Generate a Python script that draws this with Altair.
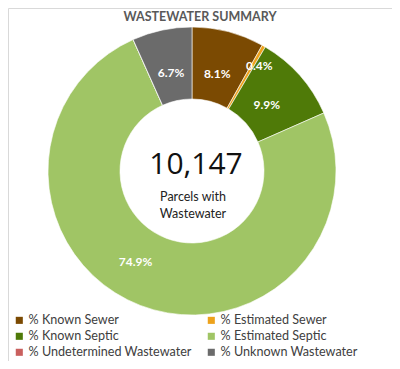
import altair as alt
import pandas as pd

categories = ["% Known Sewer", "% Estimated Sewer", "% Known Septic",
              "% Estimated Septic", "% Undetermined Wastewater", "% Unknown Wastewater"]
values = [8.1, 0.4, 9.9, 74.9, 0.0, 6.7]
colors = ["#7B4A02", "#EDA21C", "#4F7A08", "#A0C565", "#C9605E", "#6B6B6B"]
# legend reading order (fills column by column)
legend_order = ["% Known Sewer", "% Known Septic", "% Undetermined Wastewater",
                "% Estimated Sewer", "% Estimated Septic", "% Unknown Wastewater"]

title_text = ["WASTEWATER SUMMARY"]
total_text = ["10,147"]
sub_text = ["Parcels with", "Wastewater"]

FONT = "Lato"
CX, CY = 184, 163

df = pd.DataFrame({"category": categories, "value": values})

base = alt.Chart(df).transform_window(
    idx="row_number()"
).transform_calculate(
    label="format(datum.value, '.1f') + '%'"
)

theta = alt.Theta("value:Q", stack=True)
order = alt.Order("idx:Q")

arcs = base.mark_arc(radius=144, radius2=72, stroke="#ffffff", strokeWidth=0.6).encode(
    theta=theta,
    order=order,
    x=alt.value(CX), y=alt.value(CY),
    color=alt.Color(
        "category:N",
        scale=alt.Scale(domain=categories, range=colors),
        sort=categories,
        legend=alt.Legend(
            orient="none", legendX=5, legendY=306, columns=2, values=legend_order,
            columnPadding=13, rowPadding=3, padding=0, title=None,
            symbolType="square", symbolSize=50, symbolStrokeWidth=0,
            labelFont=FONT, labelFontSize=12.6, labelColor="#404040",
            labelOffset=3, labelLimit=250,
        ),
    ),
)

def label_layer(cond, radius, dx=0, dy=0):
    return base.transform_calculate(
        lab=f"({cond}) ? datum.label : ''"
    ).mark_text(
        radius=radius, dx=dx, dy=dy, font=FONT, fontSize=12, fontWeight="bold",
        fill="#ffffff", align="center", baseline="middle"
    ).encode(
        theta=theta, order=order,
        x=alt.value(CX), y=alt.value(CY),
        text="lab:N",
    )

lab_normal = label_layer("datum.value >= 1 && datum.value < 50", 100)
lab_small = label_layer("datum.value > 0 && datum.value < 1", 123, dx=6, dy=2)
lab_big = label_layer("datum.value >= 50", 107, dx=-18, dy=-9)

title = alt.Chart(pd.DataFrame({"t": title_text})).mark_text(
    font=FONT, fontSize=12.5, fontWeight="bold", fill="#595959",
    align="center", baseline="middle"
).encode(x=alt.value(192), y=alt.value(9), text="t:N")

total = alt.Chart(pd.DataFrame({"t": total_text})).mark_text(
    font="Open Sans", fontSize=30, fill="#111111", align="center", baseline="middle"
).encode(x=alt.value(188), y=alt.value(157), text="t:N")

sub = alt.Chart(pd.DataFrame({"t": sub_text, "k": [0, 1]})).transform_calculate(
    yy="189 + datum.k * 17"
).mark_text(
    font=FONT, fontSize=12.5, fill="#222222", align="center", baseline="middle"
).encode(x=alt.value(185), y=alt.Y("yy:Q", scale=None), text="t:N")

chart = alt.layer(arcs, lab_normal, lab_small, lab_big, title, total, sub).properties(
    width=384, height=353, padding=0, autosize=alt.AutoSizeParams(type="none"),
    background="#ffffff",
).configure_view(stroke="#d9d9d9", strokeWidth=1)

chart.save("out.html", embed_options={"renderer": "svg", "actions": False})
